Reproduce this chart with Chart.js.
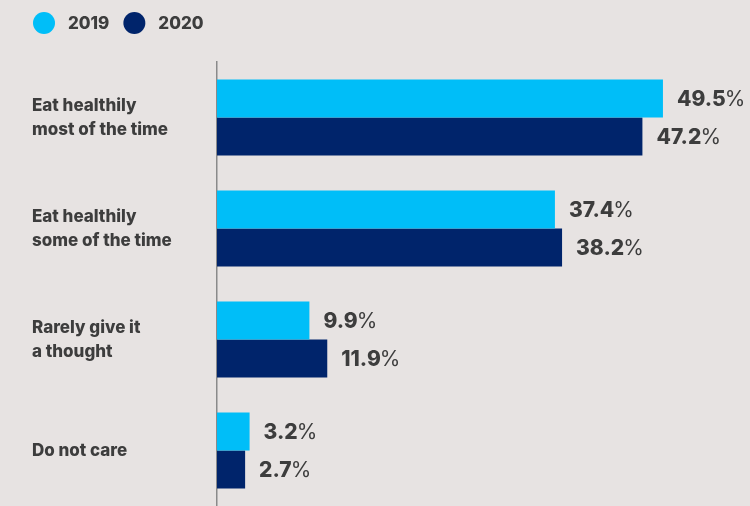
<!DOCTYPE html>
<html>
<head>
<meta charset="utf-8">
<script src="https://cdn.jsdelivr.net/npm/chart.js@4"></script>
<style>
  html, body { margin: 0; padding: 0; background: #e7e3e2; }
  #wrap { width: 750px; height: 506px; position: relative; }
</style>
</head>
<body>
<div id="wrap"><canvas id="chart"></canvas></div>
<script>
// data
const categories = [
  ['Eat healthily', 'most of the time'],
  ['Eat healthily', 'some of the time'],
  ['Rarely give it', 'a thought'],
  ['Do not care']
];
const seriesNames = ['2019', '2020'];
const values2019 = [49.5, 37.4, 9.9, 3.2];
const values2020 = [47.2, 38.2, 11.9, 2.7];

const colors = ['#00bef8', '#00246b'];
const textColor = '#3d3d3d';
const fontFamily = 'Inter, "Open Sans", sans-serif';

// legend drawn by hand so the circles sit where the original has them
const legendPlugin = {
  id: 'topLegend',
  afterDraw(chart) {
    const ctx = chart.ctx;
    ctx.save();
    ctx.font = '800 17px ' + fontFamily;
    ctx.textBaseline = 'middle';
    let x = 33;
    const y = 23;
    seriesNames.forEach(function(name, i) {
      ctx.fillStyle = colors[i];
      ctx.beginPath();
      ctx.arc(x + 11, y, 11, 0, Math.PI * 2);
      ctx.fill();
      ctx.fillStyle = textColor;
      ctx.textAlign = 'left';
      ctx.fillText(name, x + 35, y + 1);
      x += 35 + ctx.measureText(name).width + 14;
    });
    ctx.restore();
  }
};

// value labels: bold number, lighter percent sign
const valueLabels = {
  id: 'valueLabels',
  afterDatasetsDraw(chart) {
    const ctx = chart.ctx;
    ctx.save();
    ctx.textBaseline = 'middle';
    ctx.textAlign = 'left';
    chart.data.datasets.forEach(function(ds, di) {
      const meta = chart.getDatasetMeta(di);
      meta.data.forEach(function(bar, i) {
        const num = ds.data[i].toFixed(1);
        let x = bar.x + 14;
        ctx.fillStyle = textColor;
        ctx.font = '800 21px ' + fontFamily;
        ctx.fillText(num, x, bar.y + 1);
        x += ctx.measureText(num).width - 1;
        ctx.font = '400 21px ' + fontFamily;
        ctx.fillText('%', x, bar.y + 1);
      });
    });
    ctx.restore();
  }
};

// bars in the original start a few pixels left of their zero
const axisMin = -0.45;

new Chart(document.getElementById('chart'), {
  type: 'bar',
  data: {
    labels: categories,
    datasets: [
      { label: seriesNames[0], data: values2019, backgroundColor: colors[0], base: axisMin },
      { label: seriesNames[1], data: values2020, backgroundColor: colors[1], base: axisMin }
    ]
  },
  options: {
    indexAxis: 'y',
    responsive: true,
    maintainAspectRatio: false,
    devicePixelRatio: 1,
    animation: false,
    layout: { padding: { top: 62, left: 32, right: 0, bottom: 0 } },
    datasets: { bar: { barPercentage: 1, categoryPercentage: 0.685 } },
    plugins: {
      legend: { display: false },
      tooltip: { enabled: false }
    },
    scales: {
      x: { display: false, min: axisMin, max: 59.25 },
      y: {
        afterFit: function(scale) {
          scale.width = 185;
          scale.paddingTop = 0;
          scale.paddingBottom = 0;
        },
        grid: { display: false, drawTicks: false },
        border: { display: true, color: '#8a8a8a', width: 1.5 },
        ticks: {
          crossAlign: 'far',
          color: textColor,
          font: { family: fontFamily, size: 17, weight: '800', lineHeight: 1.4 }
        }
      }
    }
  },
  plugins: [legendPlugin, valueLabels]
});
</script>
</body>
</html>
